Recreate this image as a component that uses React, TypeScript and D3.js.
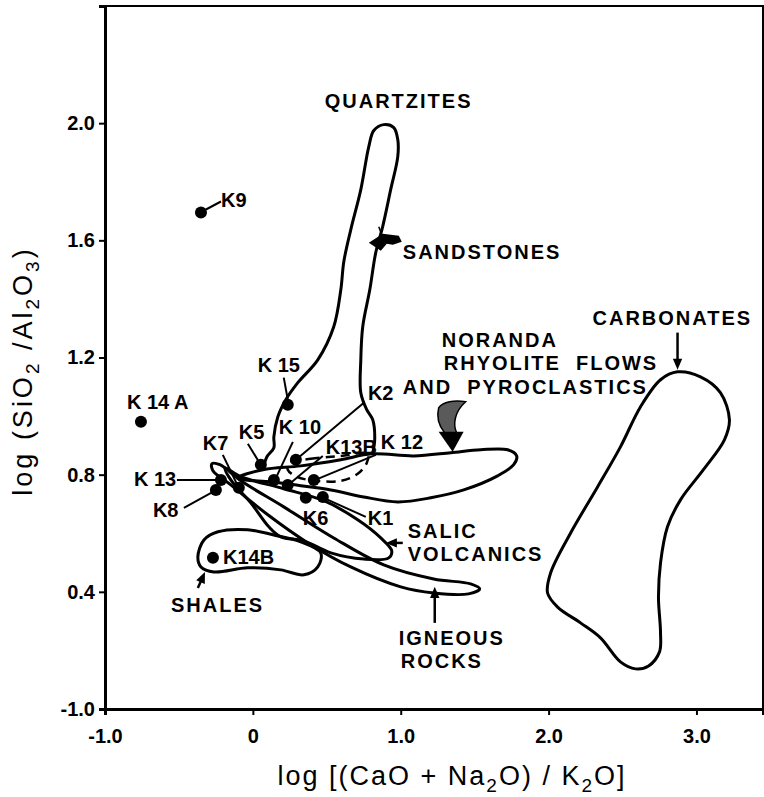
import React, { useEffect, useRef } from 'react';
import * as d3 from 'd3';

const width = 764;
const height = 797;
const font = '"Liberation Sans", Arial, sans-serif';

// axis ticks (the bottom of the y axis is printed "-1.0" in the source figure)
const xTicks = [-1, 0, 1, 2, 3];
const xTickLabels = ['-1.0', '0', '1.0', '2.0', '3.0'];
const yTicks = [0, 0.4, 0.8, 1.2, 1.6, 2.0];
const yTickLabels = ['-1.0', '0.4', '0.8', '1.2', '1.6', '2.0'];

// field outlines, [log(CaO+Na2O)/K2O, log SiO2/Al2O3]
const quartzites = [
	[0.074, 0.830], [0.095, 0.861], [0.142, 0.892], [0.142, 0.929], [0.169, 0.998],
	[0.223, 1.056], [0.304, 1.114], [0.439, 1.192], [0.547, 1.305], [0.595, 1.432],
	[0.615, 1.527], [0.662, 1.636], [0.730, 1.773], [0.784, 1.920], [0.818, 1.975],
	[0.885, 1.995], [0.953, 1.985], [0.980, 1.944], [0.980, 1.886], [0.932, 1.773],
	[0.878, 1.647], [0.831, 1.558], [0.791, 1.432], [0.743, 1.305], [0.730, 1.192],
	[0.730, 1.080], [0.770, 1.022], [0.811, 0.987], [0.824, 0.919], [0.811, 0.875],
];
const noranda = [
	[-0.101, 0.789], [0.068, 0.817], [0.324, 0.830], [0.595, 0.851], [0.804, 0.871],
	[1.088, 0.864], [1.338, 0.875], [1.541, 0.885], [1.723, 0.885], [1.784, 0.864],
	[1.764, 0.834], [1.655, 0.796], [1.426, 0.748], [1.203, 0.721], [0.980, 0.707],
	[0.750, 0.724], [0.527, 0.748], [0.324, 0.762], [0.122, 0.776], [-0.047, 0.782],
];
const k13bField = [
	[0.243, 0.840], [0.392, 0.854], [0.595, 0.864], [0.777, 0.871], [0.770, 0.840],
	[0.709, 0.803], [0.595, 0.779], [0.426, 0.779], [0.297, 0.793], [0.236, 0.817],
];
const salicVolcanics = [
	[-0.189, 0.823], [-0.081, 0.793], [0.209, 0.752], [0.480, 0.711], [0.709, 0.646],
	[0.865, 0.584], [0.939, 0.540], [0.919, 0.516], [0.750, 0.512], [0.527, 0.533],
	[0.345, 0.574], [0.189, 0.588], [0.108, 0.622], [-0.014, 0.704], [-0.149, 0.782],
];
const igneousRocks = [
	[-0.277, 0.837], [-0.223, 0.834], [-0.081, 0.779], [0.209, 0.690], [0.547, 0.584],
	[0.885, 0.492], [1.223, 0.444], [1.473, 0.427], [1.534, 0.410], [1.459, 0.393],
	[1.223, 0.396], [1.000, 0.417], [0.662, 0.485], [0.372, 0.567], [0.101, 0.663],
	[-0.149, 0.765], [-0.270, 0.813],
];
const shales = [
	[-0.372, 0.519], [-0.331, 0.577], [-0.236, 0.605], [-0.034, 0.612], [0.142, 0.594],
	[0.324, 0.571], [0.459, 0.533], [0.439, 0.485], [0.345, 0.458], [0.189, 0.475],
	[-0.034, 0.482], [-0.264, 0.468], [-0.351, 0.485],
];
const carbonates = [
	[2.872, 1.151], [3.027, 1.134], [3.162, 1.080], [3.223, 0.987], [3.189, 0.919],
	[3.047, 0.817], [2.892, 0.714], [2.804, 0.622], [2.757, 0.499], [2.743, 0.383],
	[2.757, 0.260], [2.750, 0.195], [2.676, 0.147], [2.588, 0.137], [2.486, 0.161],
	[2.351, 0.243], [2.216, 0.294], [2.061, 0.348], [1.993, 0.396], [2.014, 0.465],
	[2.149, 0.601], [2.331, 0.758], [2.486, 0.895], [2.622, 1.032], [2.757, 1.124],
];

// samples
const samples = [
	{ id: 'K9', x: -0.351, y: 1.695 },
	{ id: 'K14A', x: -0.757, y: 0.981 },
	{ id: 'K15', x: 0.236, y: 1.039 },
	{ id: 'K5', x: 0.054, y: 0.834 },
	{ id: 'K2', x: 0.291, y: 0.851 },
	{ id: 'K10', x: 0.142, y: 0.782 },
	{ id: 'K13B', x: 0.236, y: 0.765 },
	{ id: 'K12', x: 0.412, y: 0.782 },
	{ id: 'K6', x: 0.358, y: 0.721 },
	{ id: 'K1', x: 0.473, y: 0.724 },
	{ id: 'K13', x: -0.216, y: 0.782 },
	{ id: 'K8', x: -0.250, y: 0.748 },
	{ id: 'K7', x: -0.095, y: 0.755 },
	{ id: 'K14B', x: -0.270, y: 0.516 },
];

// label placement for samples, pixel offsets from the dot
const sampleLabels = {
	K9: { text: 'K9', dx: 20, dy: -6, leader: [5, -3, 20, -11] },
	K14A: { text: 'K 14 A', dx: -14, dy: -13 },
	K15: { text: 'K 15', dx: -30, dy: -33, leader: [-4, -27, 0, -5] },
	K5: { text: 'K5', dx: -22, dy: -26, leader: [-13, -21, -2, -3] },
	K2: { text: 'K2', dx: 72, dy: -60, leader: [68, -57, 0, 0] },
	K10: { text: 'K 10', dx: 5, dy: -46, leader: [19, -38, 3, -4] },
	K13B: { text: 'K13B', dx: 38, dy: -31, leader: [35, -29, 4, -3] },
	K12: { text: 'K 12', dx: 67, dy: -31, leader: [62, -25, 4, -1] },
	K6: { text: 'K6', dx: -3, dy: 27 },
	K1: { text: 'K1', dx: 45, dy: 28, leader: [43, 20, 3, 2] },
	K13: { text: 'K 13', dx: -87, dy: 6, leader: [-44, 0, -3, 0] },
	K8: { text: 'K8', dx: -63, dy: 27, leader: [-32, 18, -3, 2] },
	K7: { text: 'K7', dx: -36, dy: -38, leader: [-16, -33, -2, -4] },
	K14B: { text: 'K14B', dx: 10, dy: 6 },
};

// field names, [x, y] of text start / baseline
const fieldNames = [
	{ text: 'QUARTZITES', x: 0.486, y: 2.053 },
	{ text: 'SANDSTONES', x: 1.014, y: 1.537 },
	{ text: 'NORANDA', x: 1.277, y: 1.237 },
	{ text: 'RHYOLITE  FLOWS', x: 1.291, y: 1.158 },
	{ text: 'AND  PYROCLASTICS', x: 1.014, y: 1.076 },
	{ text: 'CARBONATES', x: 2.297, y: 1.312 },
	{ text: 'SALIC', x: 1.047, y: 0.584 },
	{ text: 'VOLCANICS', x: 1.047, y: 0.506 },
	{ text: 'SHALES', x: -0.554, y: 0.331 },
	{ text: 'IGNEOUS', x: 0.986, y: 0.219 },
	{ text: 'ROCKS', x: 1.000, y: 0.140 },
];

// straight pointer arrows, tail -> tip
const arrows = [
	{ from: [2.872, 1.285], to: [2.872, 1.158] },
	{ from: [1.014, 0.567], to: [0.899, 0.567] },
	{ from: [1.230, 0.294], to: [1.230, 0.417] },
	{ from: [-0.372, 0.413], to: [-0.324, 0.468] },
];
const sandstoneTip = [0.784, 1.592];
const norandaTip = [1.351, 0.878];

const drawChart = (node) => {
	const svg = d3.select(node);
	svg.selectAll('*').remove();

	const x = d3.scaleLinear().domain([-1, 3.45]).range([105, 763]);
	const y = d3.scaleLinear().domain([0, 2.4]).range([709, 6]);

	svg.append('rect').attr('width', width).attr('height', height).attr('fill', '#fff');

	// frame
	svg.append('rect')
		.attr('x', x(-1)).attr('y', y(2.4))
		.attr('width', x(3.45) - x(-1)).attr('height', y(0) - y(2.4))
		.attr('fill', 'none').attr('stroke', '#000').attr('stroke-width', 2);

	const yAxis = svg.append('g').attr('transform', `translate(${ x(-1) },0)`)
		.call(d3.axisLeft(y).tickValues(yTicks).tickSize(6).tickPadding(4)
			.tickFormat((d, i) => yTickLabels[i]));
	const xAxis = svg.append('g').attr('transform', `translate(0,${ y(0) })`)
		.call(d3.axisBottom(x).tickValues(xTicks).tickSize(6).tickPadding(14)
			.tickFormat((d, i) => xTickLabels[i]));

	[xAxis, yAxis].forEach((g) => {
		g.select('.domain').attr('stroke-width', 3);
		g.selectAll('.tick line').attr('stroke-width', 2);
		g.selectAll('.tick text')
			.attr('font-family', font).attr('font-size', 20)
			.attr('font-weight', 'bold').attr('fill', '#000');
	});

	// axis titles
	const xt = svg.append('text')
		.attr('x', 452).attr('y', 785)
		.attr('text-anchor', 'middle')
		.attr('font-family', font).attr('font-size', 27)
		.attr('letter-spacing', 2);
	xt.append('tspan').text('log [(CaO + Na');
	xt.append('tspan').attr('font-size', 19).attr('dy', 7).text('2');
	xt.append('tspan').attr('dy', -7).text('O) / K');
	xt.append('tspan').attr('font-size', 19).attr('dy', 7).text('2');
	xt.append('tspan').attr('dy', -7).text('O]');

	const yt = svg.append('text')
		.attr('transform', 'translate(32,371) rotate(-90)')
		.attr('text-anchor', 'middle')
		.attr('font-family', font).attr('font-size', 27)
		.attr('letter-spacing', 3);
	yt.append('tspan').text('log (SiO');
	yt.append('tspan').attr('font-size', 19).attr('dy', 7).text('2');
	yt.append('tspan').attr('dy', -7).text(' /Al');
	yt.append('tspan').attr('font-size', 19).attr('dy', 7).text('2');
	yt.append('tspan').attr('dy', -7).text('O');
	yt.append('tspan').attr('font-size', 19).attr('dy', 7).text('3');
	yt.append('tspan').attr('dy', -7).text(')');

	// fields
	const closed = d3.line().x((d) => x(d[0])).y((d) => y(d[1]))
		.curve(d3.curveCatmullRomClosed.alpha(0.5));
	const open = d3.line().x((d) => x(d[0])).y((d) => y(d[1]))
		.curve(d3.curveCatmullRom.alpha(0.5));
	const fields = svg.append('g').attr('fill', 'none').attr('stroke', '#000')
		.attr('stroke-width', 3).attr('stroke-linejoin', 'round');

	[noranda, salicVolcanics, igneousRocks, shales, carbonates].forEach((f) => {
		fields.append('path').attr('d', closed(f));
	});
	fields.append('path').attr('d', open(quartzites));
	fields.append('path').attr('d', closed(k13bField))
		.attr('stroke-width', 2.5).attr('stroke-dasharray', '9,6');

	// arrows
	const ann = svg.append('g');
	arrows.forEach(({ from, to }) => {
		const x1 = x(from[0]); const y1 = y(from[1]);
		const x2 = x(to[0]); const y2 = y(to[1]);
		const a = Math.atan2(y2 - y1, x2 - x1);
		const h = 12;
		ann.append('line').attr('x1', x1).attr('y1', y1)
			.attr('x2', x2 - (Math.cos(a) * h * 0.6)).attr('y2', y2 - (Math.sin(a) * h * 0.6))
			.attr('stroke', '#000').attr('stroke-width', 2.5);
		const p = [
			[x2, y2],
			[x2 - (h * Math.cos(a - 0.4)), y2 - (h * Math.sin(a - 0.4))],
			[x2 - (h * Math.cos(a + 0.4)), y2 - (h * Math.sin(a + 0.4))],
		];
		ann.append('polygon').attr('points', p.join(' ')).attr('fill', '#000');
	});

	// sandstones wedge
	const sx = x(sandstoneTip[0]); const sy = y(sandstoneTip[1]);
	ann.append('path')
		.attr('transform', `translate(${ sx },${ sy })`)
		.attr('d', 'M0,0 L14,-9 L30,-7 L33,-1 L24,2 L18,1 L12,8 Z')
		.attr('fill', '#000');
	ann.append('line')
		.attr('x1', sx + 10).attr('y1', sy - 16).attr('x2', sx + 13).attr('y2', sy - 8)
		.attr('stroke', '#000').attr('stroke-width', 1.5);

	// noranda curved arrow (stippled body)
	const nx = x(norandaTip[0]); const ny = y(norandaTip[1]);
	const ng = ann.append('g').attr('transform', `translate(${ nx },${ ny })`);
	ng.append('path')
		.attr('d', 'M-14,-44 C-17,-32 -12,-24 -8,-19 L4,-19 C0,-28 2,-40 13,-50 C2,-52 -10,-50 -14,-44 Z')
		.attr('fill', '#5a5a5a').attr('stroke', '#000').attr('stroke-width', 1.5);
	ng.append('path').attr('d', 'M-14,-20 L11,-20 L0,0 Z').attr('fill', '#000');

	// field names
	svg.append('g').selectAll('text').data(fieldNames).join('text')
		.attr('x', (d) => x(d.x)).attr('y', (d) => y(d.y))
		.attr('font-family', font).attr('font-size', 20).attr('font-weight', 'bold')
		.attr('letter-spacing', 2)
		.style('white-space', 'pre')
		.text((d) => d.text);

	// samples
	const sg = svg.append('g');
	samples.forEach((s) => {
		const cx = x(s.x); const cy = y(s.y);
		const lab = sampleLabels[s.id];
		if (lab.leader) {
			const [a, b, c, d] = lab.leader;
			sg.append('line')
				.attr('x1', cx + a).attr('y1', cy + b).attr('x2', cx + c).attr('y2', cy + d)
				.attr('stroke', '#000').attr('stroke-width', 2);
		}
		sg.append('circle').attr('cx', cx).attr('cy', cy).attr('r', 6).attr('fill', '#000');
		sg.append('text').attr('x', cx + lab.dx).attr('y', cy + lab.dy)
			.attr('font-family', font).attr('font-size', 20).attr('font-weight', 'bold')
			.text(lab.text);
	});
};

const App = () => {
	const ref = useRef(null);

	useEffect(() => {
		drawChart(ref.current);
	}, []);

	return (
		<svg ref={ ref } width={ width } height={ height }
			style={ { position: 'absolute', left: 0, top: 0, background: '#fff' } }/>
	);
};

export default App;
